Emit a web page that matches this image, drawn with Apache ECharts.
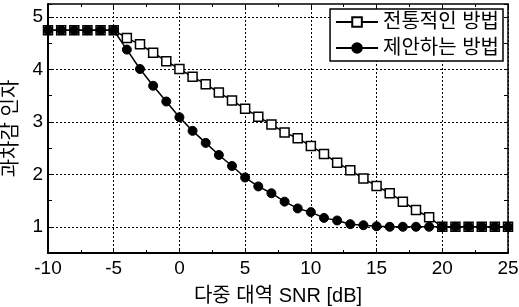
<!DOCTYPE html>
<html>
<head>
<meta charset="utf-8">
<script src="https://cdn.jsdelivr.net/npm/echarts@6/dist/echarts.min.js"></script>
<style>
  html, body { margin: 0; padding: 0; background: #fff; }
  #box { width: 519px; height: 307px; }
</style>
</head>
<body>
<div id="box"></div>
<script>
// SNR 축 (dB)
var snr = [-10,-9,-8,-7,-6,-5,-4,-3,-2,-1,0,1,2,3,4,5,6,7,8,9,10,11,12,13,14,15,16,17,18,19,20,21,22,23,24,25];
// 전통적인 방법
var conventional = [4.75,4.75,4.75,4.75,4.75,4.75,4.60,4.48,4.32,4.16,4.01,3.86,3.72,3.56,3.41,3.25,3.10,2.95,2.80,2.69,2.54,2.39,2.22,2.08,1.92,1.78,1.64,1.48,1.32,1.18,1.0,1.0,1.0,1.0,1.0,1.0];
// 제안하는 방법
var proposed = [4.75,4.75,4.75,4.75,4.75,4.75,4.38,4.01,3.69,3.39,3.09,2.83,2.60,2.37,2.16,1.94,1.77,1.64,1.48,1.35,1.28,1.17,1.12,1.05,1.03,1.01,1.0,1.0,1.0,1.0,1.0,1.0,1.0,1.0,1.0,1.0];
var xTicks = [-10,-5,0,5,10,15,20,25];
var yTicks = [1,2,3,4,5];
var names = ['전통적인 방법','제안하는 방법'];

function pairs(vals) {
  var out = [];
  for (var i = 0; i < snr.length; i++) out.push([snr[i], vals[i]]);
  return out;
}

var numFont = 'Liberation Sans, Arial, sans-serif';
var korFont = 'Liberation Sans, Noto Sans CJK KR, sans-serif';
var dotted = { color: '#000', type: [2, 2], width: 1 };

var myChart = echarts.init(document.getElementById('box'));
var option = {
  backgroundColor: '#fff',
  animation: false,
  grid: { left: 48, right: 11, top: 4, bottom: 54, outerBoundsMode: 'none' },
  legend: {
    orient: 'vertical',
    right: 16, top: 9, z: 10,
    backgroundColor: '#fff',
    borderColor: '#000', borderWidth: 1.5, borderRadius: 0,
    padding: [3, 4, 3, 5],
    itemWidth: 42, itemHeight: 12, itemGap: 6,
    textStyle: { fontFamily: korFont, fontSize: 20, color: '#000' },
    data: names
  },
  xAxis: [
    {
      type: 'value', min: -10, max: 25, interval: 5,
      name: '다중 대역 SNR [dB]', nameLocation: 'middle', nameGap: 33,
      nameTextStyle: { fontFamily: korFont, fontSize: 20, color: '#000' },
      axisLine: { onZero: false, lineStyle: { color: '#000', width: 2 } },
      axisTick: { inside: true, length: 5, lineStyle: { color: '#000' } },
      minorTick: { show: true, splitNumber: 2, length: 3, lineStyle: { color: '#000' } },
      axisLabel: {
        fontFamily: numFont, fontSize: 19, color: '#000', margin: 6,
        formatter: function (v) { return xTicks.indexOf(v) >= 0 ? String(v) : ''; }
      },
      splitLine: { show: true, lineStyle: dotted }
    },
    {
      type: 'value', position: 'top', min: -10, max: 25, interval: 5,
      axisLine: { onZero: false, lineStyle: { color: '#000', width: 1.5 } },
      axisTick: { inside: true, length: 4, lineStyle: { color: '#000' } },
      minorTick: { show: true, splitNumber: 2, length: 3, lineStyle: { color: '#000' } },
      axisLabel: { show: false },
      splitLine: { show: false }
    }
  ],
  yAxis: [
    {
      type: 'value', min: 0.5, max: 5.25, interval: 0.5,
      name: '과차감 인자', nameLocation: 'middle', nameGap: 25, nameRotate: 90,
      nameTextStyle: { fontFamily: korFont, fontSize: 20, color: '#000' },
      axisLine: { show: true, onZero: false, lineStyle: { color: '#000', width: 2 } },
      axisTick: { inside: true, length: 4, lineStyle: { color: '#000' } },
      axisLabel: {
        fontFamily: numFont, fontSize: 19, color: '#000', margin: 5,
        formatter: function (v) {
          var r = Math.round(v);
          return (Math.abs(v - r) < 1e-6 && yTicks.indexOf(r) >= 0) ? String(r) : '';
        }
      },
      splitLine: { show: false }
    },
    {
      type: 'value', position: 'right', min: 0.5, max: 5.25, interval: 0.5,
      axisLine: { show: true, onZero: false, lineStyle: { color: '#000', width: 1.5 } },
      axisTick: { inside: true, length: 4, lineStyle: { color: '#000' } },
      axisLabel: { show: false },
      splitLine: { show: false }
    }
  ],
  series: [
    {
      name: names[0], type: 'line', xAxisIndex: 0, yAxisIndex: 0,
      data: pairs(conventional),
      symbol: 'rect', symbolSize: 9,
      lineStyle: { color: '#000', width: 1.5 },
      itemStyle: { color: '#fff', borderColor: '#000', borderWidth: 1.5 },
      markLine: {
        silent: true, symbol: 'none', label: { show: false },
        lineStyle: dotted, z: 1,
        data: yTicks.map(function (t) { return { yAxis: t }; })
      },
      z: 2
    },
    {
      name: names[1], type: 'line', xAxisIndex: 0, yAxisIndex: 0,
      data: pairs(proposed),
      symbol: 'circle', symbolSize: 9,
      lineStyle: { color: '#000', width: 1.5 },
      itemStyle: { color: '#000', borderColor: '#000', borderWidth: 1 },
      z: 3
    }
  ]
};
myChart.setOption(option);
</script>
</body>
</html>
